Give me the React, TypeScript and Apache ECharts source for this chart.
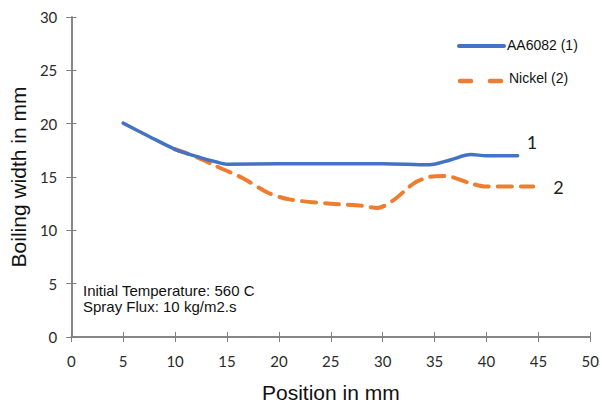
import React, { useEffect, useRef } from "react";
import * as echarts from "echarts";

const xTicksMax = 50;
const yTicksMax = 30;
const seriesNames = ["AA6082 (1)", "Nickel (2)"];
const endLabels = ["1", "2"];
const aaX = [5, 7.5, 10, 12.5, 14, 15, 20, 25, 30, 34.5, 36.5, 38.5, 40, 43];
const aaY = [20.05, 18.8, 17.6, 16.8, 16.4, 16.2, 16.25, 16.25, 16.25, 16.15, 16.6, 17.1, 17.0, 17.0];
const niX = [10, 12, 14, 16.5, 19, 21, 25, 28, 29.5, 31, 33, 34.5, 36, 38.5, 40, 44.5];
const niY = [17.6, 16.9, 16.0, 14.9, 13.5, 12.9, 12.5, 12.3, 12.1, 12.8, 14.4, 15.0, 15.1, 14.4, 14.1, 14.1];
const notes = ["Initial Temperature: 560 C", "Spray Flux: 10 kg/m2.s"];

const blue = "#4472c4";
const orange = "#ed7d31";
const axisColor = "#7f7f7f";
const tickFont = { fontFamily: "Lato", fontSize: 15, color: "#2b2b2b" };

export default function App() {
  const ref = useRef<HTMLDivElement>(null);
  useEffect(() => {
    document.body.style.margin = "0";
    const chart = echarts.init(ref.current!, null, { renderer: "svg" });
    const baseLine = { show: true, lineStyle: { color: axisColor, width: 1.5 } };
    const tick = { show: true, inside: true, length: 5, lineStyle: { color: axisColor } };
    const titleStyle = { fontFamily: "Liberation Sans", fontSize: 21, color: "#111" };
    chart.setOption({
      animation: false,
      backgroundColor: "#ffffff",
      grid: { left: 67, right: 6, top: 17, bottom: 65 },
      xAxis: [
        {
          type: "value",
          min: 0,
          max: xTicksMax,
          interval: 5,
          axisLine: baseLine,
          axisTick: tick,
          splitLine: { show: false },
          axisLabel: { ...tickFont, margin: 16 },
          name: "Position in mm",
          nameLocation: "middle",
          nameGap: 45,
          nameTextStyle: titleStyle,
        },
        {
          type: "value",
          position: "top",
          min: 0,
          max: xTicksMax,
          interval: 5,
          axisLine: baseLine,
          axisTick: tick,
          splitLine: { show: false },
          axisLabel: { show: false },
        },
      ],
      yAxis: [
        {
          type: "value",
          min: 0,
          max: yTicksMax,
          interval: 5,
          axisLine: baseLine,
          axisTick: tick,
          splitLine: { show: false },
          axisLabel: { ...tickFont, margin: 14 },
          name: "Boiling width in mm",
          nameLocation: "middle",
          nameGap: 38,
          nameTextStyle: titleStyle,
        },
        {
          type: "value",
          position: "right",
          min: 0,
          max: yTicksMax,
          interval: 5,
          axisLine: baseLine,
          axisTick: tick,
          splitLine: { show: false },
          axisLabel: { show: false },
        },
      ],
      series: [
        {
          name: seriesNames[0],
          type: "line",
          showSymbol: false,
          symbol: "none",
          smooth: 0.3,
          data: aaX.map((x, i) => [x, aaY[i]]),
          lineStyle: { color: blue, width: 3.5, cap: "round" },
          itemStyle: { color: blue },
          endLabel: {
            show: true,
            formatter: endLabels[0],
            offset: [1, -14],
            fontFamily: "Lato",
            fontSize: 18,
            color: "#222",
          },
          z: 3,
        },
        {
          name: seriesNames[1],
          type: "line",
          showSymbol: false,
          symbol: "none",
          smooth: 0.3,
          data: niX.map((x, i) => [x, niY[i]]),
          lineStyle: { color: orange, width: 4, type: [14, 9], cap: "round" },
          itemStyle: { color: orange },
          endLabel: {
            show: true,
            formatter: endLabels[1],
            offset: [12, 0],
            fontFamily: "Lato",
            fontSize: 18,
            color: "#222",
          },
          z: 2,
        },
      ],
      graphic: [
        {
          type: "line",
          shape: { x1: 459, y1: 46, x2: 504, y2: 46 },
          style: { stroke: blue, lineWidth: 4, lineCap: "round" },
        },
        {
          type: "line",
          shape: { x1: 460, y1: 81, x2: 471, y2: 81 },
          style: { stroke: orange, lineWidth: 4.5, lineCap: "round" },
        },
        {
          type: "line",
          shape: { x1: 490, y1: 81, x2: 501, y2: 81 },
          style: { stroke: orange, lineWidth: 4.5, lineCap: "round" },
        },
        {
          type: "text",
          x: 507,
          y: 45,
          style: { text: seriesNames[0], font: "14px 'Liberation Sans'", fill: "#111", verticalAlign: "middle" },
        },
        {
          type: "text",
          x: 509,
          y: 78,
          style: { text: seriesNames[1], font: "14px 'Liberation Sans'", fill: "#111", verticalAlign: "middle" },
        },
        ...notes.map((t, i) => ({
          type: "text",
          x: 83,
          y: 283 + i * 16,
          style: { text: t, font: "15px 'Liberation Sans'", fill: "#111", verticalAlign: "top" },
        })),
      ],
    });
    return () => chart.dispose();
  }, []);
  return <div ref={ref} style={{ width: 602, height: 408 }} />;
}
